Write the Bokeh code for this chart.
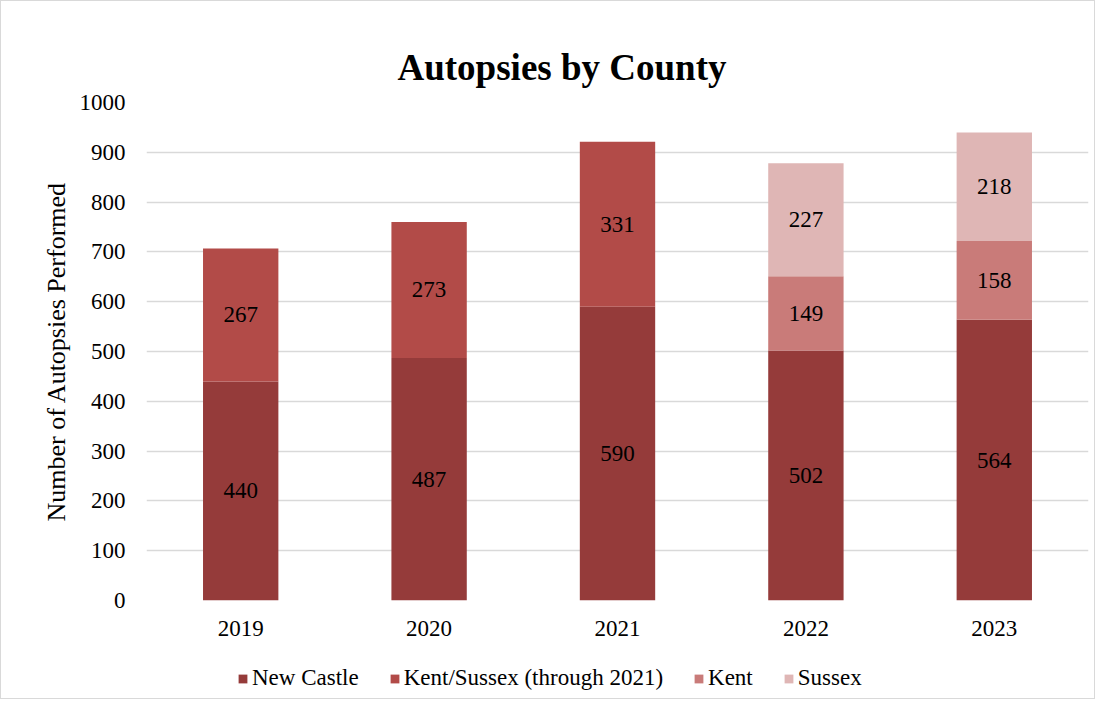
from bokeh.plotting import figure
from bokeh.layouts import column
from bokeh.models import ColumnDataSource, Legend, LegendItem, Range1d, FactorRange, Title, FixedTicker
from bokeh.core.properties import value
from bokeh.embed import file_html
from bokeh.resources import INLINE

years = ["2019", "2020", "2021", "2022", "2023"]
new_castle = [440, 487, 590, 502, 564]
kent_sussex = [267, 273, 331, 0, 0]
kent = [0, 0, 0, 149, 158]
sussex = [0, 0, 0, 227, 218]
series = ["New Castle", "Kent/Sussex (through 2021)", "Kent", "Sussex"]
colors = ["#953B3A", "#B24B48", "#C97B79", "#DFB6B5"]
y_ticks = [0, 100, 200, 300, 400, 500, 600, 700, 800, 900, 1000]

FONT = "Liberation Serif"

src = ColumnDataSource(dict(year=years, nc=new_castle, ks=kent_sussex, k=kent, s=sussex))

p = figure(x_range=FactorRange(*years, range_padding=0.0), y_range=Range1d(0, 1000),
           frame_width=942, frame_height=498, output_backend="svg", toolbar_location=None,
           min_border_left=145, min_border_right=6, min_border_top=101, min_border_bottom=55)

keys = ["nc", "ks", "k", "s"]
renderers = p.vbar_stack(keys, x="year", width=0.4, source=src, color=colors, line_width=0)

lab_x, lab_y, lab_t = [], [], []
for i, yr in enumerate(years):
    base = 0
    for arr in (new_castle, kent_sussex, kent, sussex):
        v = arr[i]
        if v > 0:
            lab_x.append(yr)
            lab_y.append(base + v / 2)
            lab_t.append(str(v))
        base += v
lsrc = ColumnDataSource(dict(x=lab_x, y=lab_y, t=lab_t))
p.text(x="x", y="y", text="t", source=lsrc, text_align="center", text_baseline="middle",
       text_font=value(FONT), text_font_size="23px", text_color="#000000")

p.title = Title(text="Autopsies by County", align="left", offset=251, text_font=FONT,
                text_font_size="37px", text_font_style="bold", text_color="#000000",
                standoff=30)

p.outline_line_color = None
p.xgrid.grid_line_color = None
p.ygrid.grid_line_color = "#D9D9D9"
p.ygrid.grid_line_width = 1.5
p.yaxis.ticker = FixedTicker(ticks=y_ticks)
for ax in (p.xaxis[0], p.yaxis[0]):
    ax.axis_line_color = None
    ax.major_tick_line_color = None
    ax.minor_tick_line_color = None
    ax.major_label_text_font = FONT
    ax.major_label_text_font_size = "23px"
    ax.major_label_text_color = "#000000"
p.yaxis.major_label_standoff = 15
p.xaxis.major_label_standoff = 14
p.yaxis.axis_label = "Number of Autopsies Performed"
p.yaxis.axis_label_text_font = FONT
p.yaxis.axis_label_text_font_size = "26px"
p.yaxis.axis_label_text_font_style = "normal"
p.yaxis.axis_label_text_color = "#000000"
p.yaxis.axis_label_standoff = 6

# legend figure (swatch renderers sit outside the visible range)
pl = figure(width=1093, height=43, output_backend="svg", toolbar_location=None,
            x_axis_location=None, y_axis_location=None,
            min_border_left=0, min_border_right=0, min_border_top=0, min_border_bottom=0,
            x_range=Range1d(0, 1), y_range=Range1d(0, 1))
pl.outline_line_color = None
pl.grid.visible = False
dummy = [pl.vbar(x=[-10], top=[-9], bottom=-10, width=1, color=colors[i], line_width=0)
         for i in range(4)]
items = [LegendItem(label=series[i], renderers=[dummy[i]]) for i in range(4)]
legend = Legend(items=items, orientation="horizontal", location=(91, 7),
                label_text_font=FONT, label_text_font_size="23px", label_text_color="#000000",
                glyph_width=11, glyph_height=11, spacing=30, label_standoff=4,
                border_line_color=None, background_fill_alpha=0, margin=0, padding=4)
pl.add_layout(legend, "center")

layout = column(p, pl, spacing=0)
layout.styles = {"border": "1.5px solid #D9D9D9"}

open("out.html", "w").write(file_html(layout, INLINE))
